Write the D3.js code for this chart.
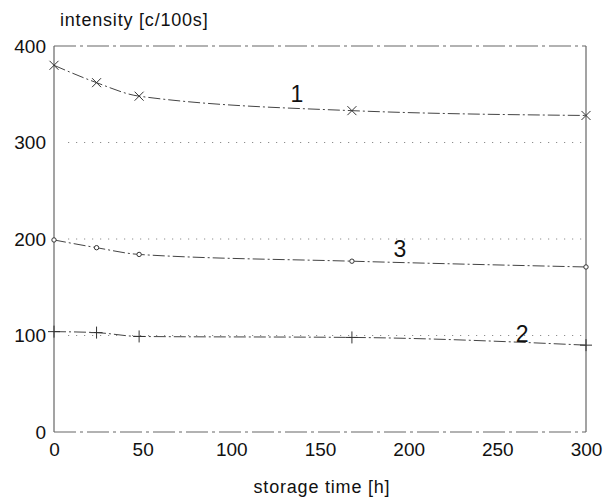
<!DOCTYPE html>
<html>
<head>
<meta charset="utf-8">
<script src="https://cdn.jsdelivr.net/npm/d3@7"></script>
<style>
  body { margin: 0; background: #fff; }
  svg { display: block; font-family: "Liberation Sans", Arial, sans-serif; }
</style>
</head>
<body>
<svg class="chart" width="605" height="498"></svg>
<script>
const svg = d3.select(".chart");

// storage time [h]
const hours = [0, 24, 48, 168, 300];
// intensity [c/100s]
const series1 = [380, 362, 348, 333, 328];
const series2 = [104, 103, 99, 98, 90];
const series3 = [199, 191, 184, 177, 171];
const xTicks = [0, 50, 100, 150, 200, 250, 300];
const yTicks = [0, 100, 200, 300, 400];
const gridValues = [100, 200, 300];
const curveNames = ["1", "3", "2"];
const labelHours = [137, 195, 264];
const labelValues = [336, 175, 87];

const plotLeft = 54, plotRight = 586, plotTop = 46, plotBottom = 432;

const x = d3.scaleLinear().domain([0, 300]).range([plotLeft, plotRight]);
const y = d3.scaleLinear().domain([0, 400]).range([plotBottom, plotTop]);

// dotted reference lines
svg.selectAll(".grid")
  .data(gridValues)
  .join("line")
  .attr("x1", x(8)).attr("x2", plotRight)
  .attr("y1", d => y(d)).attr("y2", d => y(d))
  .attr("stroke", "#777")
  .attr("stroke-width", 1)
  .attr("stroke-dasharray", "1,7");

// frame: left/right solid, top/bottom dash-dot
svg.append("line")
  .attr("x1", plotLeft).attr("x2", plotLeft).attr("y1", plotTop).attr("y2", plotBottom)
  .attr("stroke", "#666").attr("stroke-width", 1.2);
svg.append("line")
  .attr("x1", plotRight).attr("x2", plotRight).attr("y1", plotTop).attr("y2", plotBottom)
  .attr("stroke", "#666").attr("stroke-width", 1.2);
[plotTop, plotBottom].forEach(yy => {
  svg.append("line")
    .attr("x1", plotLeft).attr("x2", plotRight).attr("y1", yy).attr("y2", yy)
    .attr("stroke", "#666").attr("stroke-width", 1.2)
    .attr("stroke-dasharray", "22,4,3,4");
});

// axes labels via d3 axes (no tick lines)
const yAxis = svg.append("g")
  .attr("transform", `translate(${plotLeft},0)`)
  .call(d3.axisLeft(y).tickValues(yTicks).tickSize(0).tickPadding(8));
yAxis.select(".domain").remove();
yAxis.selectAll("text").attr("font-size", 19).attr("fill", "#111")
  .attr("font-family", "Liberation Sans, Arial, sans-serif");

const xAxis = svg.append("g")
  .attr("transform", `translate(0,${plotBottom})`)
  .call(d3.axisBottom(x).tickValues(xTicks).tickSize(0).tickPadding(11));
xAxis.select(".domain").remove();
xAxis.selectAll("text").attr("font-size", 19).attr("fill", "#111")
  .attr("font-family", "Liberation Sans, Arial, sans-serif");

// titles
svg.append("text")
  .attr("x", 60).attr("y", 26)
  .attr("font-size", 18).attr("letter-spacing", 0.8).attr("fill", "#111")
  .text("intensity [c/100s]");
svg.append("text")
  .attr("x", 322).attr("y", 493)
  .attr("text-anchor", "middle")
  .attr("font-size", 18).attr("letter-spacing", 0.8).attr("fill", "#111")
  .text("storage time [h]");

// curves
const line = d3.line()
  .x((d, i) => x(hours[i]))
  .y(d => y(d))
  .curve(d3.curveMonotoneX);

[series1, series2, series3].forEach(s => {
  svg.append("path")
    .attr("d", line(s))
    .attr("fill", "none")
    .attr("stroke", "#444")
    .attr("stroke-width", 1)
    .attr("stroke-dasharray", "12,3,2,3");
});

// markers
const g1 = svg.append("g");
series1.forEach((v, i) => {
  const cx = x(hours[i]), cy = y(v), r = 4.5;
  g1.append("path")
    .attr("d", `M${cx - r},${cy - r}L${cx + r},${cy + r}M${cx - r},${cy + r}L${cx + r},${cy - r}`)
    .attr("stroke", "#333").attr("stroke-width", 1).attr("fill", "none");
});

const g2 = svg.append("g");
series2.forEach((v, i) => {
  const cx = x(hours[i]), cy = y(v), r = 6;
  g2.append("path")
    .attr("d", `M${cx - r},${cy}L${cx + r},${cy}M${cx},${cy - r}L${cx},${cy + r}`)
    .attr("stroke", "#333").attr("stroke-width", 1).attr("fill", "none");
});

svg.append("g").selectAll("circle")
  .data(series3)
  .join("circle")
  .attr("cx", (d, i) => x(hours[i]))
  .attr("cy", d => y(d))
  .attr("r", 2.2)
  .attr("fill", "#fff")
  .attr("stroke", "#333")
  .attr("stroke-width", 1);

// curve labels
svg.selectAll(".clabel")
  .data(curveNames)
  .join("text")
  .attr("x", (d, i) => x(labelHours[i]))
  .attr("y", (d, i) => y(labelValues[i]) - 6)
  .attr("text-anchor", "middle")
  .attr("font-size", 23)
  .attr("fill", "#111")
  .text(d => d);
</script>
</body>
</html>
